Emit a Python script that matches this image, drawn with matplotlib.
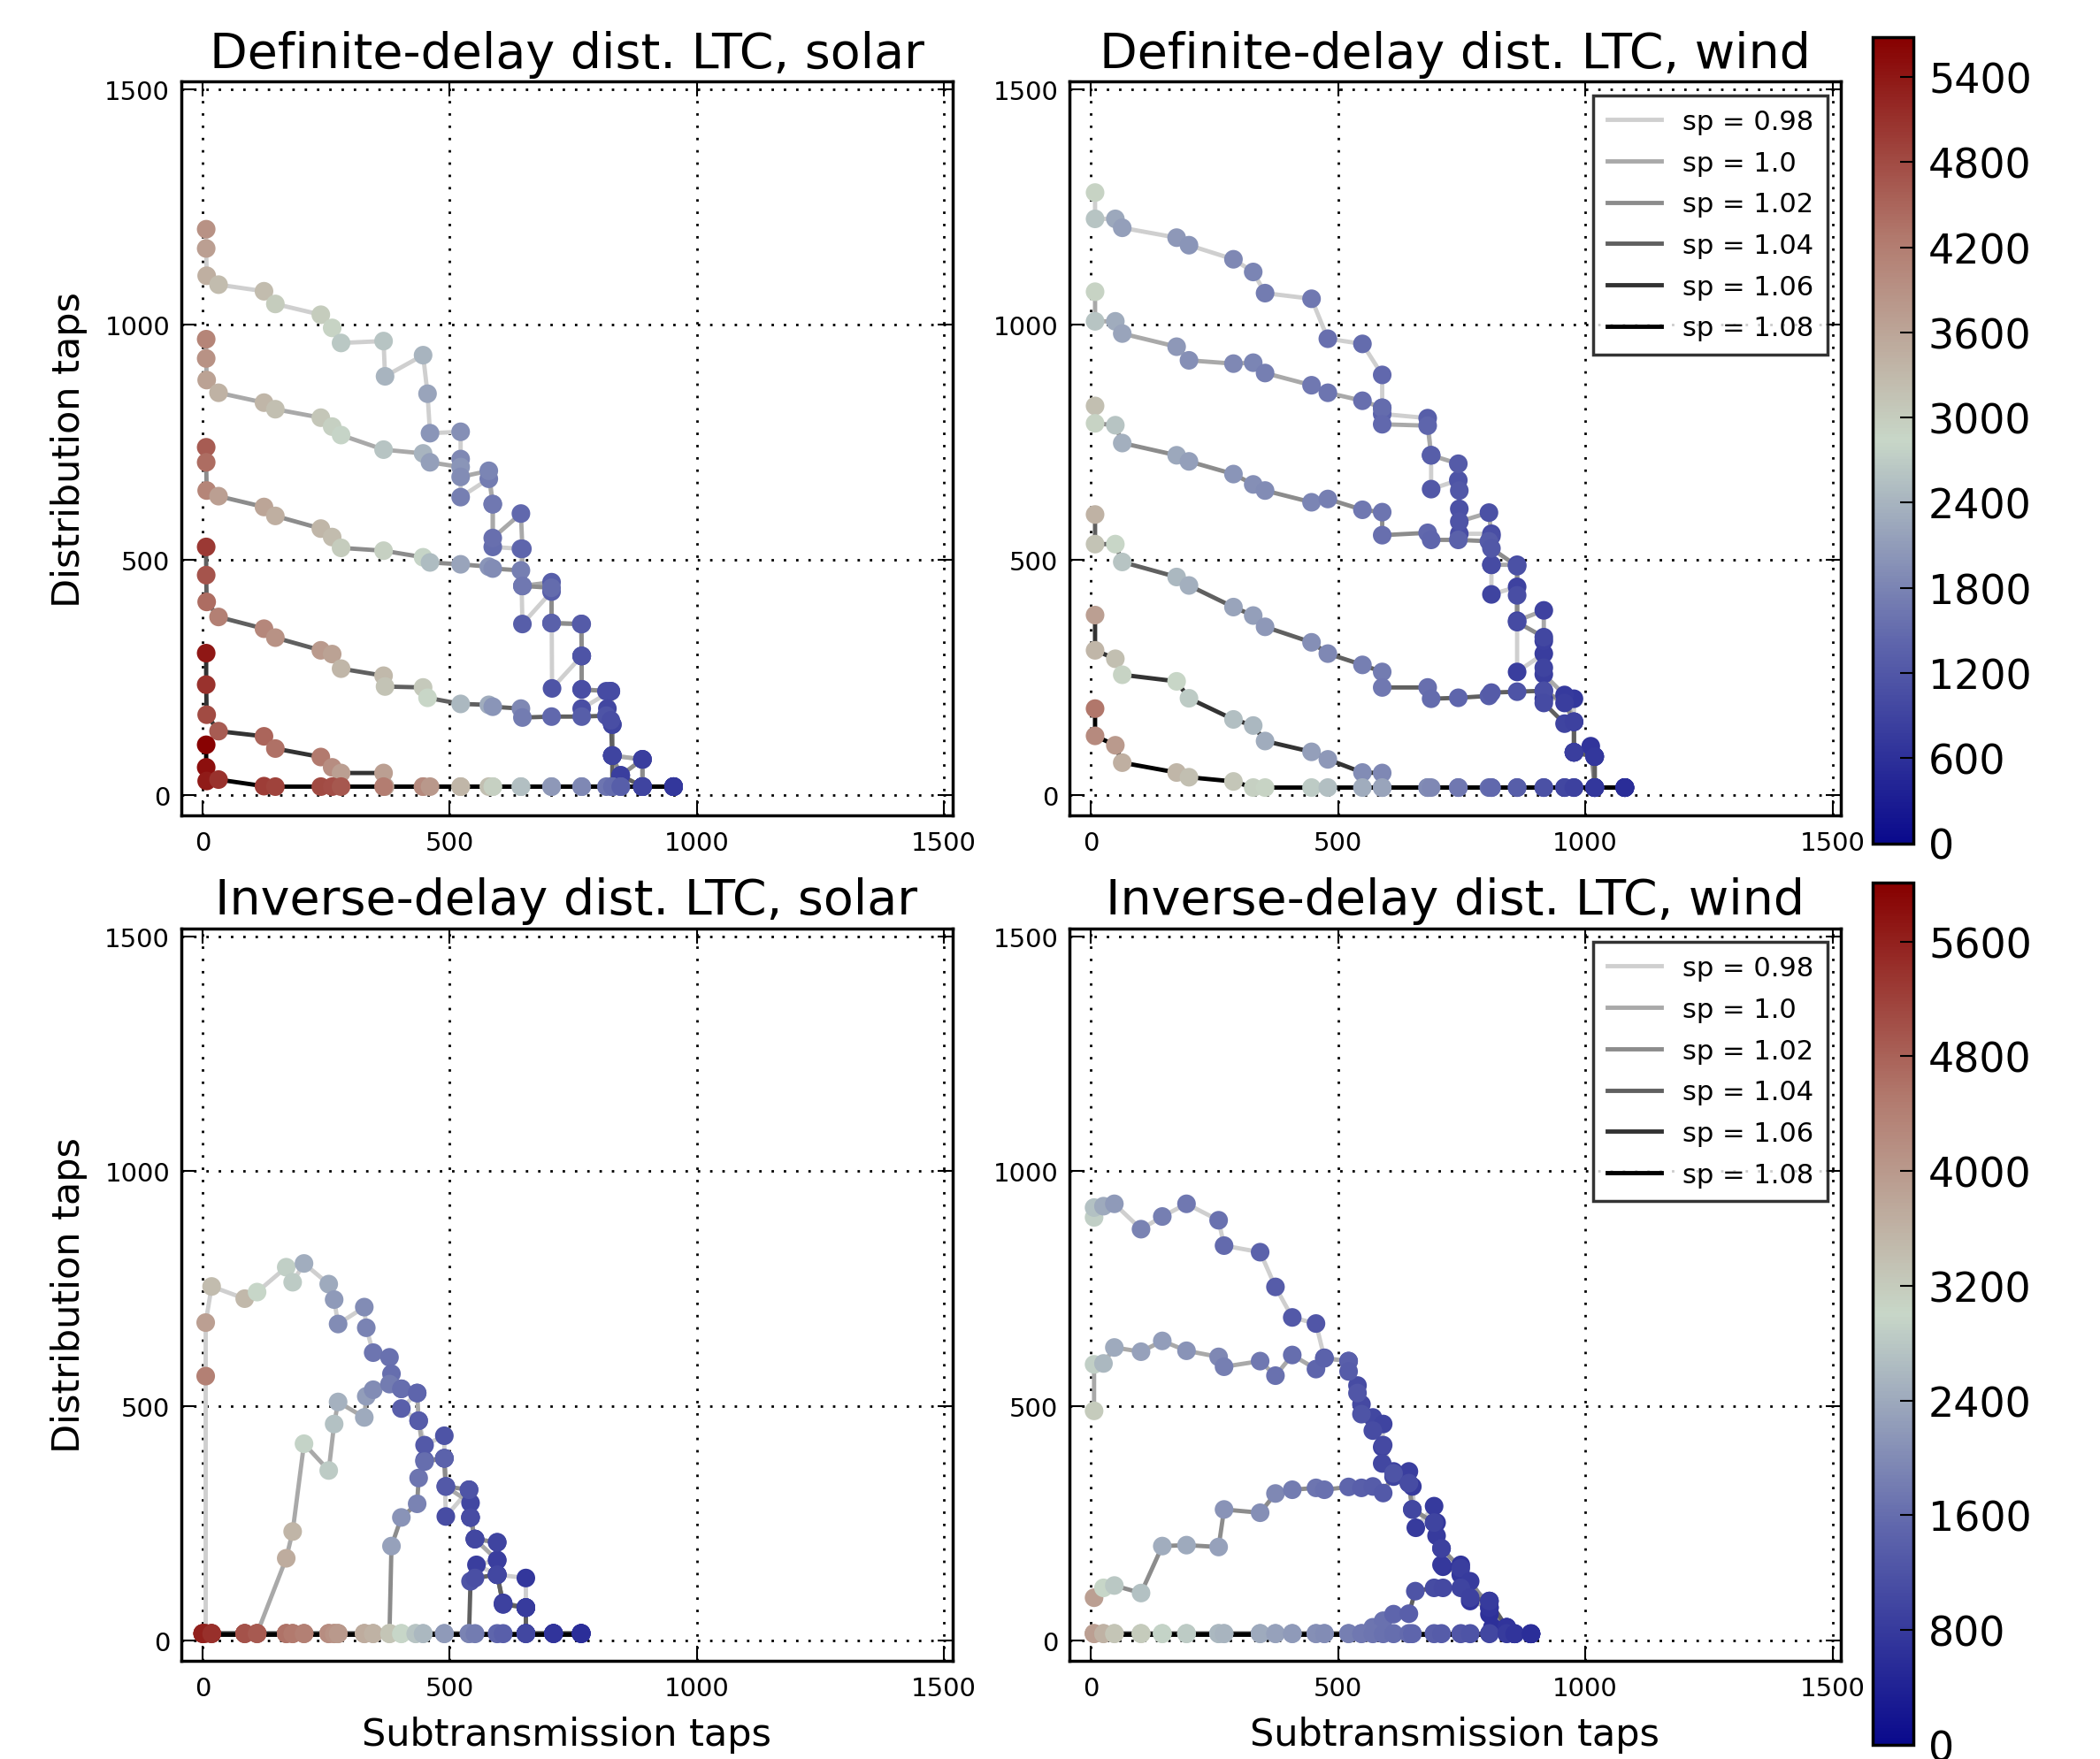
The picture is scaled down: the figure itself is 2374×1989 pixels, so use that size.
import numpy as np
import matplotlib.pyplot as plt
from matplotlib.colors import LinearSegmentedColormap, Normalize
from matplotlib.cm import ScalarMappable

# legend labels and the gray level of each set-point line
sp_values = ['0.98', '1.0', '1.02', '1.04', '1.06', '1.08']
line_grays = ['#cfcfcf', '#a9a9a9', '#8c8c8c', '#606060', '#333333', '#000000']

# ---- Definite-delay dist. LTC, solar (one list per sp value) ----
dd_solar_x = [
    [7, 7, 8, 32, 124, 147, 239, 262, 280, 366, 369, 446, 455, 460, 522, 522, 522, 579, 587, 587, 644, 647, 706, 707, 767, 767, 826, 829, 890, 890, 953],
    [7, 7, 8, 32, 124, 147, 239, 262, 280, 366, 446, 460, 522, 522, 579, 587, 587, 644, 647, 647, 706, 706, 767, 767, 767, 826, 829, 829, 890, 890, 953],
    [7, 7, 8, 32, 124, 147, 239, 262, 280, 366, 446, 460, 522, 579, 587, 644, 647, 706, 706, 766, 767, 767, 817, 819, 829, 829, 846, 890, 890, 953],
    [7, 7, 8, 32, 124, 147, 239, 262, 280, 366, 369, 446, 455, 522, 579, 587, 644, 647, 706, 767, 817, 826, 829, 829, 846, 890, 953],
    [7, 7, 8, 32, 124, 147, 239, 262, 280, 366, 369, 446, 522, 587, 644, 706, 767, 829, 846, 890, 953],
    [7, 7, 8, 32, 124, 147, 239, 262, 280, 366, 446, 460, 522, 579, 587, 644, 706, 767, 817, 829, 846, 890, 953],
]
dd_solar_y = [
    [1203, 1162, 1104, 1085, 1071, 1044, 1021, 993, 961, 965, 890, 935, 853, 769, 772, 714, 633, 672, 618, 527, 523, 363, 432, 226, 295, 183, 220, 83, 75, 17, 17],
    [969, 928, 882, 855, 834, 820, 802, 783, 765, 734, 726, 707, 697, 676, 689, 618, 546, 598, 523, 444, 452, 365, 363, 295, 224, 220, 149, 83, 75, 17, 17],
    [739, 707, 647, 635, 612, 593, 566, 548, 525, 519, 505, 494, 490, 485, 481, 477, 444, 440, 365, 363, 295, 224, 220, 183, 149, 83, 41, 75, 17, 17],
    [527, 467, 410, 378, 353, 334, 307, 299, 268, 253, 230, 228, 206, 193, 191, 187, 183, 164, 166, 166, 168, 158, 83, 17, 41, 17, 17],
    [301, 234, 170, 135, 124, 98, 80, 58, 46, 46, 17, 17, 17, 17, 17, 17, 17, 17, 17, 17, 17],
    [106, 58, 29, 32, 18, 17, 17, 17, 17, 17, 17, 17, 17, 17, 17, 17, 17, 17, 17, 17, 17, 17, 17],
]
dd_solar_c = [
    [3900, 3700, 3450, 3250, 3250, 3000, 3000, 2900, 2650, 2600, 2400, 2400, 2200, 2000, 1950, 1850, 1750, 1700, 1600, 1500, 1450, 1300, 1300, 1150, 1100, 1050, 1000, 900, 850, 800, 750],
    [4100, 3900, 3650, 3400, 3350, 3200, 3100, 2950, 2800, 2600, 2400, 2150, 2000, 1900, 1800, 1650, 1550, 1450, 1400, 1350, 1300, 1200, 1150, 1100, 1050, 1000, 950, 900, 850, 800, 750],
    [4600, 4400, 4100, 3700, 3600, 3450, 3350, 3250, 3000, 2950, 2800, 2500, 2200, 2000, 1900, 1750, 1650, 1500, 1350, 1250, 1150, 1050, 1000, 950, 900, 850, 800, 800, 750, 700],
    [5000, 4700, 4400, 4150, 4050, 3900, 3750, 3650, 3350, 3300, 3150, 3050, 2850, 2450, 2300, 2000, 1850, 1700, 1450, 1300, 1150, 1050, 900, 850, 800, 700, 650],
    [5400, 5100, 4800, 4600, 4500, 4350, 4250, 3950, 3700, 3700, 3650, 3500, 3300, 3000, 2600, 2100, 1800, 1500, 1300, 900, 700],
    [5650, 5500, 5350, 5100, 4950, 4900, 4800, 4750, 4650, 4200, 4000, 3800, 3350, 3200, 2950, 2550, 2050, 1850, 1600, 1500, 1300, 900, 700],
]

# ---- Definite-delay dist. LTC, wind ----
dd_wind_x = [
    [8, 8, 49, 63, 173, 198, 288, 328, 352, 446, 479, 549, 589, 589, 589, 681, 688, 688, 743, 745, 745, 810, 810, 810, 862, 862, 916, 916, 977, 977, 1019, 1019, 1080],
    [8, 8, 49, 63, 173, 198, 288, 328, 352, 446, 479, 549, 589, 589, 681, 688, 743, 745, 745, 805, 810, 810, 862, 862, 916, 916, 916, 958, 977, 977, 1019, 1019, 1080],
    [8, 8, 49, 63, 173, 198, 288, 328, 352, 446, 479, 549, 589, 589, 681, 688, 743, 805, 810, 862, 862, 862, 916, 916, 916, 958, 977, 977, 1011, 1019, 1080],
    [8, 8, 49, 63, 173, 198, 288, 328, 352, 446, 479, 549, 589, 589, 681, 688, 743, 805, 810, 862, 916, 916, 958, 977, 977, 1019, 1019, 1080],
    [8, 8, 49, 63, 173, 198, 288, 328, 352, 446, 479, 549, 589, 589, 681, 743, 810, 862, 916, 958, 977, 1019, 1080],
    [8, 8, 49, 63, 173, 198, 288, 328, 352, 446, 479, 549, 589, 681, 688, 743, 805, 810, 862, 916, 958, 977, 1019, 1080],
]
dd_wind_y = [
    [1281, 1225, 1225, 1206, 1185, 1169, 1139, 1112, 1067, 1055, 970, 959, 893, 823, 810, 801, 722, 650, 669, 608, 555, 555, 489, 426, 442, 261, 300, 204, 204, 90, 81, 15, 15],
    [1070, 1007, 1007, 981, 953, 924, 917, 919, 897, 871, 855, 838, 823, 788, 785, 722, 704, 647, 581, 600, 550, 489, 489, 370, 392, 327, 256, 212, 155, 90, 81, 15, 15],
    [827, 790, 786, 748, 722, 709, 682, 660, 647, 622, 629, 606, 601, 552, 557, 542, 542, 539, 524, 486, 424, 367, 335, 270, 221, 195, 155, 90, 103, 15, 15],
    [596, 533, 533, 495, 463, 445, 399, 381, 357, 324, 300, 276, 261, 228, 228, 204, 206, 210, 217, 219, 221, 195, 151, 155, 90, 81, 15, 15],
    [382, 307, 289, 255, 241, 205, 160, 147, 114, 91, 75, 47, 46, 15, 15, 15, 15, 15, 15, 15, 15, 15, 15],
    [183, 125, 105, 68, 47, 37, 28, 15, 15, 15, 15, 15, 15, 15, 15, 15, 15, 15, 15, 15, 15, 15, 15, 15],
]
dd_wind_c = [
    [2900, 2600, 2250, 2150, 2050, 2000, 1850, 1800, 1700, 1650, 1550, 1500, 1450, 1400, 1350, 1300, 1250, 1200, 1150, 1100, 1050, 1000, 950, 900, 870, 820, 780, 750, 700, 650, 620, 600, 550],
    [2900, 2600, 2300, 2200, 2050, 1950, 1850, 1800, 1750, 1650, 1600, 1550, 1500, 1450, 1400, 1300, 1250, 1200, 1150, 1100, 1050, 1000, 950, 900, 870, 830, 800, 750, 700, 650, 620, 600, 550],
    [3200, 2900, 2600, 2350, 2250, 2150, 2000, 1950, 1900, 1800, 1750, 1650, 1600, 1550, 1450, 1400, 1350, 1250, 1200, 1100, 1050, 1000, 950, 900, 850, 800, 750, 700, 650, 600, 550],
    [3400, 3150, 2850, 2600, 2450, 2350, 2200, 2150, 2050, 1950, 1850, 1750, 1700, 1650, 1550, 1500, 1400, 1300, 1250, 1150, 1050, 1000, 900, 850, 800, 700, 650, 550],
    [3700, 3350, 3200, 2900, 2850, 2700, 2550, 2450, 2300, 2150, 2050, 1900, 1850, 1800, 1700, 1500, 1350, 1200, 1050, 950, 850, 700, 550],
    [4300, 4000, 3750, 3450, 3350, 3200, 3100, 2950, 2900, 2700, 2550, 2300, 2200, 1900, 1850, 1650, 1500, 1450, 1300, 1100, 950, 850, 700, 550],
]

# ---- Inverse-delay dist. LTC, solar ----
id_solar_x = [
    [6, 6, 6, 18, 85, 110, 169, 182, 205, 255, 266, 274, 327, 331, 345, 378, 382, 402, 434, 402, 437, 449, 489, 489, 492, 539, 542, 551, 596, 596, 554, 596, 654, 654, 654, 710, 766],
    [6, 18, 85, 110, 169, 182, 205, 255, 266, 274, 327, 331, 345, 378, 402, 434, 437, 449, 489, 492, 542, 542, 551, 596, 596, 608, 654, 654, 710, 766],
    [0, 18, 85, 110, 169, 182, 205, 255, 266, 274, 327, 345, 378, 382, 402, 434, 437, 449, 489, 492, 539, 542, 551, 596, 596, 608, 654, 654, 710, 766],
    [0, 18, 85, 110, 169, 182, 205, 255, 266, 274, 327, 345, 378, 402, 431, 446, 489, 539, 542, 551, 596, 608, 654, 654, 710, 766],
    [0, 18, 85, 110, 169, 182, 205, 255, 266, 274, 327, 345, 378, 402, 431, 446, 489, 539, 551, 596, 608, 654, 710, 766],
    [0, 18, 85, 110, 169, 182, 205, 255, 266, 274, 327, 345, 378, 402, 431, 446, 489, 539, 551, 596, 608, 654, 710, 766],
]
id_solar_y = [
    [15, 563, 677, 754, 728, 742, 795, 763, 803, 759, 726, 674, 710, 666, 613, 603, 568, 536, 527, 494, 468, 416, 436, 388, 264, 321, 262, 216, 209, 171, 161, 140, 133, 70, 15, 15, 15],
    [15, 15, 15, 15, 175, 232, 419, 362, 461, 508, 475, 520, 534, 546, 536, 527, 468, 384, 388, 328, 293, 262, 216, 171, 140, 77, 70, 15, 15, 15],
    [15, 15, 15, 15, 15, 15, 15, 15, 15, 15, 15, 15, 15, 201, 262, 291, 346, 381, 388, 328, 321, 262, 216, 209, 140, 80, 70, 15, 15, 15],
    [15, 15, 15, 15, 15, 15, 15, 15, 15, 15, 15, 15, 15, 15, 15, 15, 15, 15, 126, 133, 140, 77, 70, 15, 15, 15],
    [15, 15, 15, 15, 15, 15, 15, 15, 15, 15, 15, 15, 15, 15, 15, 15, 15, 15, 15, 15, 15, 15, 15, 15],
    [14, 14, 14, 14, 14, 14, 14, 14, 14, 14, 14, 14, 14, 14, 14, 14, 14, 14, 14, 14, 14, 14, 14, 14],
]
id_solar_c = [
    [5500, 4400, 3900, 3450, 3500, 3000, 2900, 2850, 2450, 2400, 2200, 2000, 2000, 1900, 1700, 1650, 1600, 1500, 1450, 1400, 1350, 1300, 1200, 1150, 1100, 1050, 1000, 950, 900, 850, 850, 800, 750, 700, 650, 600, 550],
    [5500, 5300, 5000, 4900, 3700, 3550, 2950, 2850, 2700, 2500, 2400, 2250, 2000, 1800, 1600, 1500, 1350, 1300, 1200, 1100, 1000, 950, 900, 850, 800, 750, 700, 650, 600, 550],
    [5600, 5400, 5000, 4900, 4600, 4500, 4400, 4200, 4100, 4000, 3700, 3600, 3300, 2300, 2100, 1900, 1700, 1600, 1450, 1300, 1200, 1100, 1000, 950, 850, 800, 700, 650, 600, 550],
    [5600, 5400, 5000, 4900, 4600, 4500, 4400, 4200, 4100, 4000, 3700, 3600, 3300, 3000, 2750, 2600, 2200, 1900, 1200, 1150, 1000, 900, 800, 700, 650, 600],
    [5600, 5400, 5000, 4900, 4600, 4500, 4400, 4200, 4100, 4000, 3700, 3600, 3300, 3000, 2750, 2600, 2200, 1900, 1800, 1500, 1400, 1000, 700, 600],
    [5600, 5400, 5000, 4900, 4600, 4500, 4400, 4200, 4100, 4000, 3700, 3600, 3300, 3000, 2750, 2600, 2200, 1900, 1800, 1500, 1400, 1000, 700, 600],
]

# ---- Inverse-delay dist. LTC, wind ----
id_wind_x = [
    [6, 6, 25, 47, 101, 144, 193, 258, 269, 342, 373, 407, 455, 472, 521, 539, 547, 570, 591, 589, 612, 643, 650, 657, 694, 699, 709, 712, 748, 760, 806, 806, 841, 857, 890],
    [6, 6, 25, 47, 101, 144, 193, 258, 269, 342, 373, 407, 455, 472, 521, 521, 539, 547, 570, 591, 589, 612, 643, 650, 694, 699, 709, 748, 767, 806, 812, 857, 890],
    [6, 25, 47, 101, 144, 193, 258, 269, 342, 373, 407, 455, 472, 521, 547, 570, 591, 612, 643, 650, 694, 709, 748, 767, 806, 841, 890],
    [6, 25, 47, 101, 144, 193, 258, 269, 342, 373, 407, 455, 472, 521, 547, 570, 591, 612, 643, 656, 694, 712, 748, 767, 806, 841, 857, 890],
    [6, 25, 47, 101, 144, 193, 258, 269, 342, 373, 407, 455, 472, 521, 547, 570, 591, 612, 643, 650, 694, 709, 748, 767, 806, 841, 857, 890],
    [6, 25, 47, 101, 144, 193, 258, 269, 342, 373, 407, 455, 472, 521, 547, 570, 591, 612, 643, 650, 694, 709, 748, 767, 806, 841, 857, 890],
]
id_wind_y = [
    [901, 922, 925, 930, 876, 903, 930, 895, 841, 827, 753, 688, 675, 602, 595, 543, 503, 475, 461, 412, 360, 360, 328, 240, 286, 251, 196, 157, 161, 119, 84, 56, 28, 14, 14],
    [489, 588, 590, 624, 615, 638, 617, 604, 583, 595, 564, 608, 578, 601, 595, 573, 527, 482, 447, 416, 377, 349, 335, 279, 251, 223, 161, 140, 84, 70, 28, 14, 14],
    [91, 112, 117, 101, 201, 203, 199, 279, 272, 313, 321, 325, 321, 327, 325, 328, 314, 356, 335, 279, 251, 196, 154, 126, 70, 28, 14],
    [15, 15, 15, 15, 15, 15, 15, 15, 15, 15, 15, 15, 15, 15, 15, 28, 42, 56, 57, 105, 112, 112, 112, 91, 84, 28, 14, 14],
    [15, 15, 15, 15, 15, 15, 15, 15, 15, 15, 15, 15, 15, 15, 15, 15, 15, 15, 15, 15, 15, 15, 15, 15, 15, 15, 15, 15],
    [14, 14, 14, 14, 14, 14, 14, 14, 14, 14, 14, 14, 14, 14, 14, 14, 14, 14, 14, 14, 14, 14, 14, 14, 14, 14, 14, 14],
]
id_wind_c = [
    [2900, 2700, 2400, 2200, 1900, 1850, 1750, 1650, 1550, 1450, 1350, 1300, 1250, 1200, 1150, 1100, 1050, 1000, 950, 900, 870, 850, 820, 800, 780, 760, 740, 720, 700, 680, 650, 620, 600, 580, 550],
    [3200, 2900, 2600, 2400, 2300, 2250, 2100, 1950, 1850, 1750, 1650, 1600, 1500, 1450, 1400, 1350, 1250, 1200, 1100, 1050, 1000, 950, 900, 870, 830, 800, 770, 740, 700, 650, 620, 580, 550],
    [3900, 3000, 2800, 2700, 2450, 2400, 2300, 2100, 2050, 1950, 1800, 1700, 1650, 1500, 1400, 1350, 1300, 1200, 1100, 1000, 950, 900, 850, 800, 700, 650, 550],
    [3900, 3600, 3300, 3200, 2950, 2850, 2600, 2550, 2400, 2300, 2200, 2050, 2000, 1850, 1750, 1700, 1650, 1500, 1400, 1200, 1100, 1050, 950, 900, 800, 700, 650, 600],
    [3900, 3600, 3300, 3200, 2950, 2850, 2600, 2550, 2400, 2300, 2200, 2050, 2000, 1850, 1750, 1700, 1650, 1600, 1550, 1500, 1400, 1350, 1250, 1200, 1000, 800, 700, 600],
    [3900, 3600, 3300, 3200, 2950, 2850, 2600, 2550, 2400, 2300, 2200, 2050, 2000, 1850, 1750, 1700, 1650, 1600, 1550, 1500, 1400, 1350, 1250, 1200, 1000, 800, 700, 600],
]

axis_ticks = [0, 500, 1000, 1500]
cbar_top_ticks = [0, 600, 1200, 1800, 2400, 3000, 3600, 4200, 4800, 5400]
cbar_bot_ticks = [0, 800, 1600, 2400, 3200, 4000, 4800, 5600]
cbar_top_max = 5680
cbar_bot_max = 6010

cmap = LinearSegmentedColormap.from_list(
    'bgr', ['#0a0a8c', '#5f66ac', '#c8d7c8', '#b27a6e', '#870000'])

W, H = 2374, 1990
fig = plt.figure(figsize=(W / 100, H / 100), dpi=100)


def box(left, top, right, bottom):
    return [left / W, 1 - bottom / H, (right - left) / W, (bottom - top) / H]


def draw_panel(ax, xs, ys, cs, norm, title, legend=False):
    for k in range(6):
        ax.plot(xs[k], ys[k], color=line_grays[k], lw=3.5, zorder=2,
                label='sp = ' + sp_values[k])
    for k in range(6):
        ax.scatter(xs[k], ys[k], c=cs[k], cmap=cmap, norm=norm, s=230,
                   linewidths=0, zorder=3)
    ax.set_xlim(-44, 1517)
    ax.set_ylim(-44, 1517)
    ax.set_xticks(axis_ticks)
    ax.set_yticks(axis_ticks)
    ax.grid(True, color='k', linestyle=(0, (1, 4)), linewidth=2)
    ax.tick_params(direction='in', top=True, right=True, length=12, width=1.5,
                   labelsize=21)
    ax.tick_params(axis='x', pad=12)
    ax.tick_params(axis='y', pad=9)
    for s in ax.spines.values():
        s.set_linewidth(2.5)
    ax.set_title(title, fontsize=40, pad=12)
    if legend:
        leg = ax.legend(loc='upper right', fontsize=22, fancybox=False,
                        handlelength=2.0, labelspacing=0.58, borderpad=0.5)
        leg.get_frame().set_edgecolor('k')
        leg.get_frame().set_linewidth(2.5)


norm_top = Normalize(0, cbar_top_max)
norm_bot = Normalize(0, cbar_bot_max)

ax1 = fig.add_axes(box(204.6, 93.3, 1076.5, 922.9))
ax2 = fig.add_axes(box(1208.9, 93.3, 2081, 922.9))
ax3 = fig.add_axes(box(204.6, 1050.6, 1076.5, 1879.3))
ax4 = fig.add_axes(box(1208.9, 1050.6, 2081, 1879.3))

draw_panel(ax1, dd_solar_x, dd_solar_y, dd_solar_c, norm_top, 'Definite-delay dist. LTC, solar')
draw_panel(ax2, dd_wind_x, dd_wind_y, dd_wind_c, norm_top, 'Definite-delay dist. LTC, wind', legend=True)
draw_panel(ax3, id_solar_x, id_solar_y, id_solar_c, norm_bot, 'Inverse-delay dist. LTC, solar')
draw_panel(ax4, id_wind_x, id_wind_y, id_wind_c, norm_bot, 'Inverse-delay dist. LTC, wind', legend=True)

for ax in (ax1, ax3):
    ax.set_ylabel('Distribution taps', fontsize=31, labelpad=14)
for ax in (ax3, ax4):
    ax.set_xlabel('Subtransmission taps', fontsize=31, labelpad=12)

cax1 = fig.add_axes(box(2117.3, 43.2, 2163.3, 954.5))
cax2 = fig.add_axes(box(2117.3, 999.3, 2163.3, 1973.6))
for cax, norm, ticks in ((cax1, norm_top, cbar_top_ticks), (cax2, norm_bot, cbar_bot_ticks)):
    cb = fig.colorbar(ScalarMappable(norm=norm, cmap=cmap), cax=cax, ticks=ticks)
    cb.outline.set_linewidth(2.5)
    cax.tick_params(direction='in', length=11, width=1.5, labelsize=33, pad=12)

fig.savefig('out.png', dpi=100)
